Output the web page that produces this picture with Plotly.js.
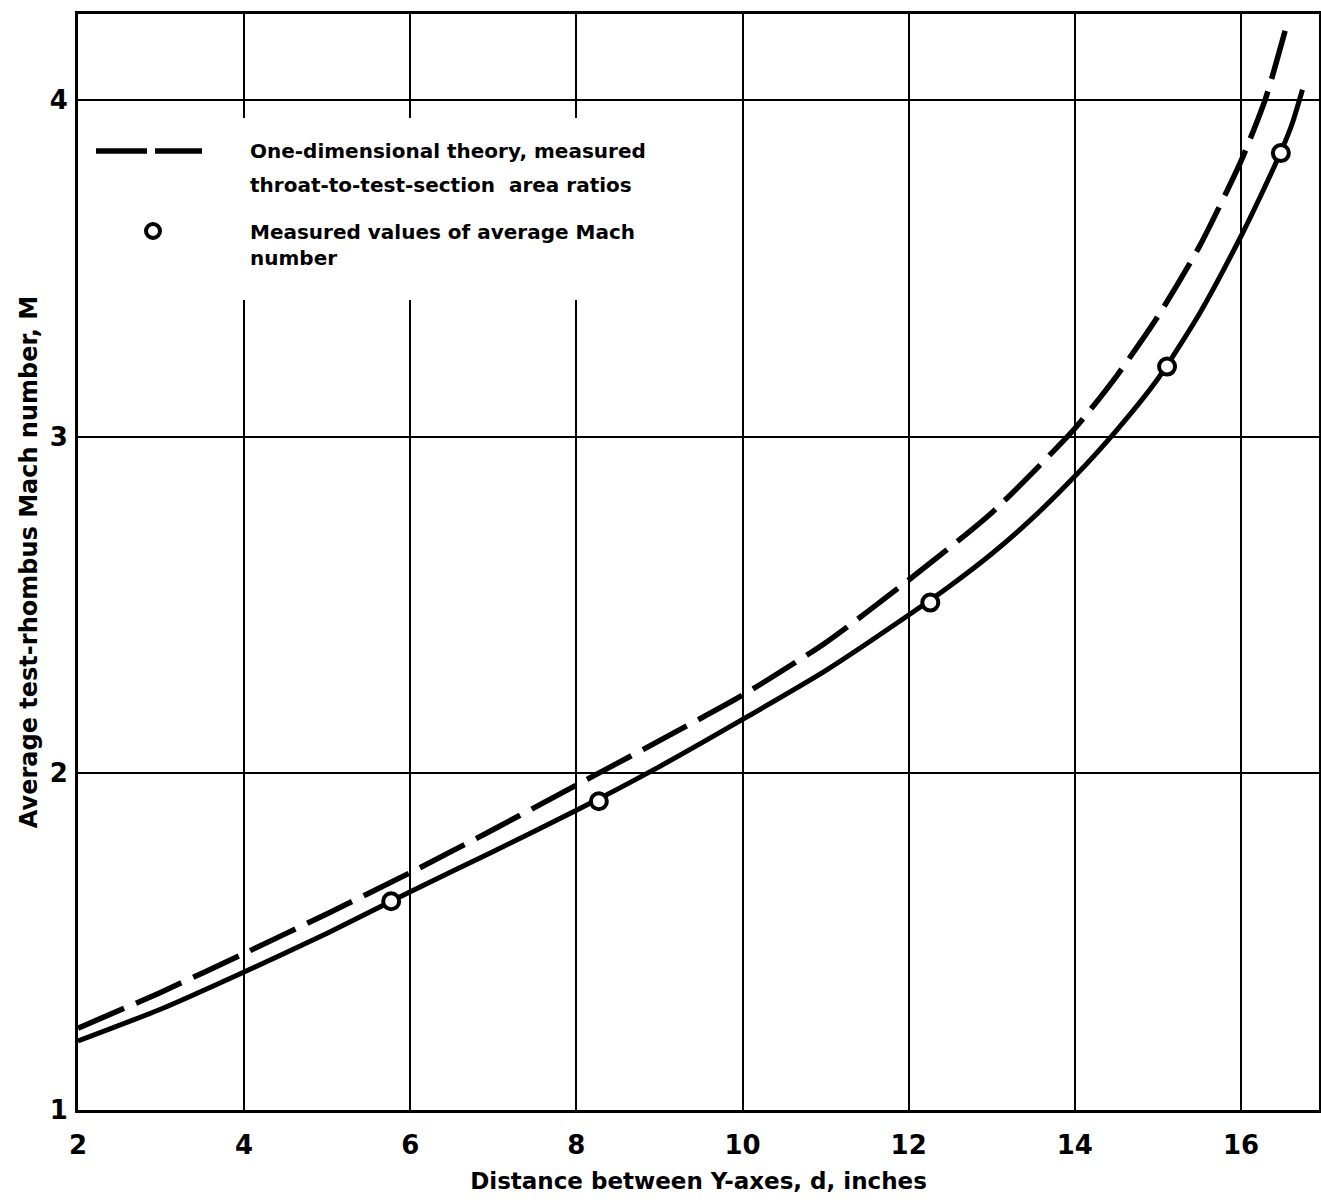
<!DOCTYPE html>
<html>
<head>
<meta charset="utf-8">
<script src="https://cdn.plot.ly/plotly-3.0.1.min.js"></script>
<style>
  html, body { margin: 0; padding: 0; background: #ffffff; }
  #chart { width: 1321px; height: 1203px; }
</style>
</head>
<body>
<div id="chart"></div>
<script>
// ---- data ----
const theoryX = [2.0, 3.0, 4.0, 5.0, 6.0, 7.0, 8.0, 9.0, 10.0, 11.0, 12.0, 13.0, 14.0, 14.5, 15.0, 15.5, 16.0, 16.3, 16.57];
const theoryM = [1.243, 1.35, 1.465, 1.583, 1.705, 1.833, 1.965, 2.097, 2.232, 2.388, 2.574, 2.774, 3.024, 3.179, 3.357, 3.565, 3.818, 4.007, 4.24];

const fairedX = [2.0, 3.0, 4.0, 5.0, 6.0, 7.0, 8.0, 9.0, 10.0, 11.0, 12.0, 12.5, 13.0, 13.5, 14.0, 14.5, 15.0, 15.5, 16.0, 16.25, 16.5, 16.62, 16.74];
const fairedM = [1.205, 1.30, 1.41, 1.525, 1.648, 1.768, 1.89, 2.02, 2.16, 2.305, 2.47, 2.557, 2.652, 2.76, 2.882, 3.018, 3.172, 3.365, 3.595, 3.722, 3.857, 3.932, 4.03];

const measuredX = [5.77, 8.27, 12.26, 15.11, 16.48];
const measuredM = [1.62, 1.917, 2.507, 3.208, 3.842];

const xTickVals = [2, 4, 6, 8, 10, 12, 14, 16];
const xTickText = ["2", "4", "6", "8", "10", "12", "14", "16"];
const yTickVals = [1, 2, 3, 4];
const yTickText = ["1", "2", "3", "4"];

const legendLabels = [
  "One-dimensional theory, measured",
  "throat-to-test-section  area ratios",
  "Measured values of average Mach",
  "number"
];

const xTitle = "Distance between Y-axes, d, inches";
const yTitle = "Average test-rhombus Mach number, M";

// ---- layout helpers (pixel -> paper) ----
const W = 1321, H = 1203;
const L = 78, R = 2, T = 14, B = 93;
const PW = W - L - R, PH = H - T - B;
const px = v => (v - L) / PW;
const py = v => (H - B - v) / PH;

const FONT = "'DejaVu Sans', 'Liberation Sans', sans-serif";

const traces = [
  {
    x: theoryX, y: theoryM, type: "scatter", mode: "lines",
    name: legendLabels[0],
    line: { color: "#000", width: 5.5, dash: "50px,13px", shape: "spline", smoothing: 0.6 },
    hoverinfo: "skip"
  },
  {
    x: fairedX, y: fairedM, type: "scatter", mode: "lines",
    name: "faired",
    line: { color: "#000", width: 5, shape: "spline", smoothing: 0.6 },
    hoverinfo: "skip"
  },
  {
    x: measuredX, y: measuredM, type: "scatter", mode: "markers",
    name: legendLabels[2],
    marker: { symbol: "circle", size: 16, color: "#fff", line: { color: "#000", width: 4 } },
    hoverinfo: "skip"
  }
];

const shapes = [
  // white box behind the legend (gridlines are broken there)
  { type: "rect", xref: "paper", yref: "paper", layer: "above",
    x0: px(84), x1: px(700), y0: py(118), y1: py(300),
    fillcolor: "#fff", line: { width: 0 } },
  // dashed legend sample
  { type: "line", xref: "paper", yref: "paper", layer: "above",
    x0: px(96), x1: px(147), y0: py(151), y1: py(151),
    line: { color: "#000", width: 5.5 } },
  { type: "line", xref: "paper", yref: "paper", layer: "above",
    x0: px(155), x1: px(202), y0: py(151), y1: py(151),
    line: { color: "#000", width: 5.5 } },
  // circle legend sample
  { type: "circle", xref: "paper", yref: "paper", layer: "above",
    x0: px(146), x1: px(160), y0: py(238), y1: py(224),
    fillcolor: "#fff", line: { color: "#000", width: 4 } }
];

const legendY = [151, 185, 232, 258];
const annotations = legendLabels.map((t, i) => ({
  text: t, xref: "paper", yref: "paper",
  x: px(248), y: py(legendY[i]), xanchor: "left", yanchor: "middle",
  showarrow: false,
  font: { family: FONT, size: 20, color: "#000", weight: "bold" }
}));

const layout = {
  width: W, height: H,
  margin: { l: L, r: R, t: T, b: B, pad: 0 },
  paper_bgcolor: "#fff", plot_bgcolor: "#fff",
  showlegend: false,
  font: { family: FONT, color: "#000" },
  xaxis: {
    range: [2, 2 + PW / 83.07],
    tickvals: xTickVals, ticktext: xTickText,
    showgrid: true, gridcolor: "#000", gridwidth: 2,
    showline: true, linecolor: "#000", linewidth: 3, mirror: true,
    zeroline: false, ticks: "", ticklabelstandoff: 10,
    tickfont: { family: FONT, size: 26, color: "#000", weight: "bold" },
    title: { text: xTitle, standoff: 14,
      font: { family: FONT, size: 23, color: "#000", weight: "bold" } },
    automargin: false, fixedrange: true
  },
  yaxis: {
    range: [1, 1 + PH / 336.7],
    tickvals: yTickVals, ticktext: yTickText,
    showgrid: true, gridcolor: "#000", gridwidth: 2,
    showline: true, linecolor: "#000", linewidth: 3, mirror: true,
    zeroline: false, ticks: "", ticklabelstandoff: 2,
    tickfont: { family: FONT, size: 26, color: "#000", weight: "bold" },
    title: { text: yTitle, standoff: 6,
      font: { family: FONT, size: 24, color: "#000", weight: "bold" } },
    automargin: false, fixedrange: true
  },
  shapes: shapes,
  annotations: annotations
};

Plotly.newPlot("chart", traces, layout, { displayModeBar: false, staticPlot: true });
</script>
</body>
</html>
